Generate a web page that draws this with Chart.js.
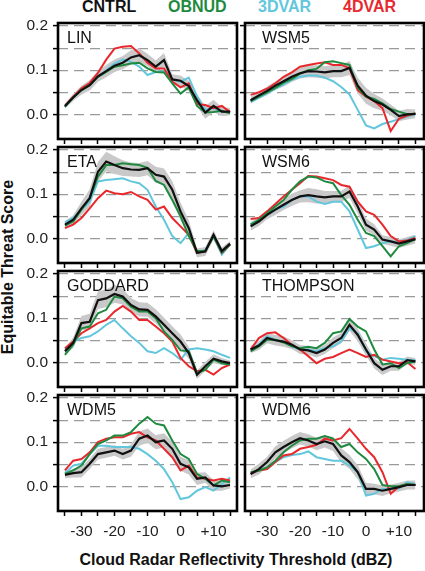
<!DOCTYPE html>
<html>
<head>
<meta charset="utf-8">
<script src="https://cdn.jsdelivr.net/npm/chart.js@4.4.1/dist/chart.umd.min.js"></script>
<style>
  html, body { margin: 0; padding: 0; background: #fff; overflow: hidden; }
  body { width: 425px; height: 571px; position: relative; font-family: 'Liberation Sans', Arial, sans-serif; color: #111; }
  canvas { position: absolute; }
  .txt { position: absolute; white-space: nowrap; }
  .legend { top: -3px; font-size: 16px; font-weight: bold; line-height: 20px; }
  .pname { font-size: 16px; line-height: 18px; color: #111; }
  .ytitle { left: -142px; top: 257px; width: 300px; text-align: center; font-size: 16px; font-weight: bold; line-height: 20px; transform: rotate(-90deg); }
  .xtitle { left: 36px; top: 550px; width: 400px; text-align: center; font-size: 16px; font-weight: bold; line-height: 20px; }
</style>
</head>
<body>
<div class="txt legend" style="left:82px;color:#111111">CNTRL</div>
<div class="txt legend" style="left:168px;color:#1f8a3f">OBNUD</div>
<div class="txt legend" style="left:258px;color:#62c6dc">3DVAR</div>
<div class="txt legend" style="left:343px;color:#e8282d">4DVAR</div>
<div class="txt ytitle">Equitable Threat Score</div>
<div class="txt xtitle">Cloud Radar Reflectivity Threshold (dBZ)</div>
<script>
// reflectivity thresholds (dBZ) where the scores are sampled
const thresholds = [-35, -32.5, -30, -27.5, -25, -22.5, -20, -17.5, -15, -12.5, -10, -7.5, -5, -2.5, 0, 2.5, 5, 7.5, 10, 12.5, 15];
const yTickValues = [0, 0.05, 0.1, 0.15, 0.2];
const yTickLabels = ["0.0", "", "0.1", "", "0.2"];
const xTickValues = [-35, -30, -25, -20, -15, -10, -5, 0, 5, 10, 15];
const xTickLabels = ["", "-30", "", "-20", "", "-10", "", "0", "", "+10", ""];
const experiments = ["CNTRL", "OBNUD", "3DVAR", "4DVAR"];

const LIN_CNTRL  = [0.019,0.038,0.055,0.066,0.086,0.098,0.110,0.117,0.129,0.134,0.123,0.108,0.123,0.079,0.076,0.064,0.032,0.004,0.019,0.006,0.006];
const LIN_OBNUD  = [0.017,0.038,0.055,0.066,0.085,0.096,0.108,0.111,0.115,0.117,0.104,0.096,0.095,0.070,0.047,0.061,0.019,0.004,0.005,0.008,0.002];
const LIN_3DVAR  = [0.017,0.038,0.056,0.068,0.086,0.100,0.115,0.124,0.119,0.108,0.089,0.096,0.098,0.079,0.074,0.083,0.040,0.010,0.014,0.006,0.004];
const LIN_4DVAR  = [0.019,0.040,0.059,0.071,0.094,0.124,0.149,0.153,0.155,0.138,0.117,0.104,0.104,0.074,0.061,0.070,0.023,0.021,0.014,0.019,0.005];
const LIN_SPREAD = [0.006,0.008,0.010,0.012,0.012,0.014,0.014,0.015,0.016,0.016,0.014,0.014,0.016,0.012,0.012,0.012,0.014,0.014,0.014,0.010,0.008];

const WSM5_CNTRL  = [0.032,0.043,0.053,0.065,0.075,0.085,0.093,0.098,0.097,0.095,0.098,0.098,0.105,0.065,0.042,0.030,0.022,0.010,-0.004,0.000,0.001];
const WSM5_OBNUD  = [0.030,0.040,0.050,0.060,0.072,0.080,0.092,0.100,0.103,0.118,0.120,0.116,0.112,0.060,0.040,0.035,0.025,0.012,0.006,0.000,0.001];
const WSM5_3DVAR  = [0.028,0.037,0.048,0.058,0.068,0.078,0.085,0.088,0.088,0.083,0.075,0.062,0.045,0.010,-0.025,-0.032,-0.022,-0.017,-0.011,-0.005,0.000];
const WSM5_4DVAR  = [0.044,0.050,0.058,0.070,0.085,0.095,0.108,0.112,0.115,0.118,0.112,0.112,0.105,0.055,0.040,0.030,0.014,-0.038,-0.010,-0.003,0.002];
const WSM5_SPREAD = [0.008,0.008,0.010,0.010,0.012,0.012,0.012,0.014,0.014,0.014,0.014,0.014,0.016,0.018,0.018,0.016,0.014,0.012,0.012,0.012,0.010];

const ETA_CNTRL  = [0.031,0.042,0.068,0.091,0.151,0.174,0.166,0.159,0.156,0.155,0.159,0.144,0.140,0.110,0.061,0.023,-0.033,-0.030,0.008,-0.029,-0.012];
const ETA_OBNUD  = [0.029,0.038,0.065,0.091,0.140,0.166,0.166,0.170,0.168,0.166,0.160,0.130,0.121,0.087,0.050,0.005,-0.029,-0.029,0.004,-0.032,-0.014];
const ETA_3DVAR  = [0.036,0.046,0.065,0.083,0.129,0.132,0.134,0.136,0.129,0.125,0.110,0.072,0.042,0.005,-0.011,0.012,-0.033,-0.026,0.004,-0.037,-0.014];
const ETA_4DVAR  = [0.023,0.031,0.046,0.068,0.091,0.108,0.102,0.100,0.105,0.095,0.087,0.065,0.072,0.046,0.027,0.008,-0.033,-0.029,0.005,-0.033,-0.014];
const ETA_SPREAD = [0.008,0.010,0.015,0.020,0.022,0.022,0.020,0.018,0.016,0.016,0.016,0.018,0.018,0.020,0.020,0.018,0.010,0.010,0.010,0.008,0.006];

const WSM6_CNTRL  = [0.027,0.038,0.053,0.065,0.076,0.087,0.095,0.098,0.095,0.093,0.095,0.095,0.106,0.072,0.031,0.020,-0.003,-0.007,-0.012,-0.007,-0.002];
const WSM6_OBNUD  = [0.031,0.042,0.057,0.072,0.087,0.110,0.129,0.140,0.138,0.129,0.125,0.098,0.076,0.042,0.012,0.005,-0.018,-0.041,-0.018,-0.011,-0.002];
const WSM6_3DVAR  = [0.031,0.042,0.053,0.065,0.072,0.087,0.095,0.095,0.083,0.078,0.083,0.083,0.061,0.020,-0.022,-0.018,-0.011,-0.007,-0.007,-0.003,0.005];
const WSM6_4DVAR  = [0.044,0.046,0.061,0.078,0.095,0.110,0.125,0.141,0.140,0.136,0.132,0.121,0.117,0.083,0.061,0.053,0.031,0.005,-0.007,-0.005,0.001];
const WSM6_SPREAD = [0.010,0.010,0.010,0.012,0.012,0.014,0.014,0.016,0.016,0.014,0.012,0.012,0.014,0.016,0.014,0.012,0.010,0.010,0.010,0.010,0.010];

const GODDARD_CNTRL  = [0.025,0.044,0.089,0.092,0.141,0.145,0.155,0.149,0.130,0.120,0.119,0.104,0.085,0.066,0.047,0.021,-0.028,-0.009,0.008,0.002,-0.002];
const GODDARD_OBNUD  = [0.017,0.040,0.077,0.081,0.111,0.119,0.149,0.145,0.126,0.115,0.115,0.100,0.070,0.051,0.027,0.025,-0.024,-0.017,0.006,-0.002,-0.005];
const GODDARD_3DVAR  = [0.029,0.047,0.055,0.059,0.070,0.085,0.096,0.077,0.059,0.044,0.025,0.021,0.032,0.021,0.006,0.029,0.032,0.029,0.025,0.017,0.010];
const GODDARD_4DVAR  = [0.032,0.047,0.066,0.077,0.089,0.096,0.115,0.128,0.115,0.096,0.096,0.081,0.066,0.047,0.010,-0.009,-0.020,-0.017,-0.028,-0.013,-0.005];
const GODDARD_SPREAD = [0.008,0.012,0.016,0.018,0.020,0.020,0.020,0.018,0.016,0.016,0.016,0.016,0.016,0.016,0.016,0.014,0.010,0.010,0.010,0.008,0.006];

const THOMPSON_CNTRL  = [0.029,0.038,0.055,0.050,0.047,0.040,0.029,0.027,0.021,0.029,0.044,0.055,0.085,0.062,0.029,-0.002,-0.017,-0.009,-0.009,0.005,0.002];
const THOMPSON_OBNUD  = [0.025,0.036,0.051,0.051,0.045,0.036,0.032,0.035,0.032,0.044,0.066,0.070,0.098,0.081,0.070,0.029,-0.005,-0.002,-0.013,-0.002,0.002];
const THOMPSON_3DVAR  = [0.029,0.040,0.059,0.051,0.047,0.036,0.029,0.029,0.025,0.032,0.036,0.047,0.077,0.066,0.025,0.014,0.006,0.010,0.008,0.006,0.005];
const THOMPSON_4DVAR  = [0.029,0.055,0.066,0.068,0.055,0.040,0.029,0.014,-0.002,0.008,0.012,0.021,0.029,0.021,0.012,0.017,0.006,0.002,-0.002,0.000,-0.015];
const THOMPSON_SPREAD = [0.008,0.010,0.012,0.012,0.012,0.010,0.010,0.010,0.010,0.010,0.012,0.012,0.014,0.014,0.014,0.012,0.012,0.010,0.010,0.008,0.008];

const WDM5_CNTRL  = [0.026,0.030,0.032,0.051,0.073,0.077,0.081,0.073,0.081,0.108,0.115,0.100,0.104,0.085,0.051,0.043,0.017,0.020,0.002,0.000,0.003];
const WDM5_OBNUD  = [0.028,0.036,0.047,0.073,0.096,0.104,0.115,0.115,0.123,0.142,0.157,0.142,0.138,0.104,0.073,0.062,0.028,0.017,0.002,0.013,0.009];
const WDM5_3DVAR  = [0.030,0.047,0.051,0.073,0.092,0.092,0.089,0.089,0.089,0.085,0.073,0.058,0.039,0.009,-0.029,-0.025,-0.010,-0.002,-0.010,0.005,0.020];
const WDM5_4DVAR  = [0.036,0.058,0.062,0.077,0.100,0.108,0.111,0.111,0.119,0.123,0.111,0.104,0.085,0.066,0.036,0.047,0.020,0.017,0.013,0.017,0.013];
const WDM5_SPREAD = [0.008,0.010,0.012,0.012,0.012,0.012,0.012,0.012,0.014,0.016,0.016,0.016,0.016,0.016,0.016,0.016,0.014,0.012,0.012,0.010,0.008];

const WDM6_CNTRL  = [0.028,0.039,0.055,0.077,0.089,0.100,0.109,0.104,0.096,0.102,0.096,0.070,0.055,0.032,-0.006,-0.006,-0.010,-0.006,-0.002,0.003,0.003];
const WDM6_OBNUD  = [0.032,0.036,0.043,0.058,0.077,0.092,0.104,0.108,0.108,0.114,0.108,0.089,0.096,0.077,0.062,0.039,0.003,0.000,0.000,0.005,0.003];
const WDM6_3DVAR  = [0.028,0.036,0.039,0.055,0.066,0.071,0.073,0.079,0.066,0.062,0.058,0.058,0.047,0.032,-0.021,-0.017,-0.006,-0.006,-0.005,0.009,0.005];
const WDM6_4DVAR  = [0.028,0.036,0.039,0.055,0.070,0.073,0.085,0.089,0.094,0.108,0.104,0.109,0.130,0.108,0.085,0.066,0.032,-0.017,0.000,0.005,0.003];
const WDM6_SPREAD = [0.010,0.012,0.012,0.014,0.014,0.014,0.014,0.014,0.014,0.014,0.016,0.016,0.016,0.016,0.014,0.012,0.012,0.010,0.010,0.010,0.010];

const panels = [
    { name: "LIN",      row: 0, col: 0, series: [LIN_CNTRL, LIN_OBNUD, LIN_3DVAR, LIN_4DVAR], spread: LIN_SPREAD },
    { name: "WSM5",     row: 0, col: 1, series: [WSM5_CNTRL, WSM5_OBNUD, WSM5_3DVAR, WSM5_4DVAR], spread: WSM5_SPREAD },
    { name: "ETA",      row: 1, col: 0, series: [ETA_CNTRL, ETA_OBNUD, ETA_3DVAR, ETA_4DVAR], spread: ETA_SPREAD },
    { name: "WSM6",     row: 1, col: 1, series: [WSM6_CNTRL, WSM6_OBNUD, WSM6_3DVAR, WSM6_4DVAR], spread: WSM6_SPREAD },
    { name: "GODDARD",  row: 2, col: 0, series: [GODDARD_CNTRL, GODDARD_OBNUD, GODDARD_3DVAR, GODDARD_4DVAR], spread: GODDARD_SPREAD },
    { name: "THOMPSON", row: 2, col: 1, series: [THOMPSON_CNTRL, THOMPSON_OBNUD, THOMPSON_3DVAR, THOMPSON_4DVAR], spread: THOMPSON_SPREAD },
    { name: "WDM5",     row: 3, col: 0, series: [WDM5_CNTRL, WDM5_OBNUD, WDM5_3DVAR, WDM5_4DVAR], spread: WDM5_SPREAD },
    { name: "WDM6",     row: 3, col: 1, series: [WDM6_CNTRL, WDM6_OBNUD, WDM6_3DVAR, WDM6_4DVAR], spread: WDM6_SPREAD }
];

const lineColors = ["#111111", "#1f8a3f", "#62c6dc", "#e8282d"];
const bandColor = "#c9c9c9";

// layout of the 4x2 grid of plot boxes
const plotLeft = [58, 245];
const plotTop = [23, 147, 271, 395];
const PLOT_W = 179, PLOT_H = 116;
const AXIS_W = 50, PAD_T = 18, PAD_R = 10;
const xMin = [-37.1, -36.7], xMax = [17.1, 17.6];

Chart.defaults.font.family = "'Liberation Sans', Arial, sans-serif";
Chart.defaults.color = "#222";

const framePlugin = {
    id: "frame",
    afterDraw(chart) {
        const { ctx, chartArea: a } = chart;
        ctx.save();
        ctx.lineWidth = 2.6;
        ctx.strokeStyle = "#000";
        ctx.strokeRect(a.left, a.top, a.right - a.left, a.bottom - a.top);
        ctx.restore();
    }
};

function makePanel(p) {
    const bottomRow = p.row === 3;
    const leftCol = p.col === 0;
    const xh = bottomRow ? 44 : 20;

    const cv = document.createElement("canvas");
    cv.width = AXIS_W + PLOT_W + PAD_R;
    cv.height = PAD_T + PLOT_H + xh;
    cv.style.left = (plotLeft[p.col] - AXIS_W) + "px";
    cv.style.top = (plotTop[p.row] - PAD_T) + "px";
    document.body.appendChild(cv);

    const label = document.createElement("div");
    label.className = "txt pname";
    label.textContent = p.name;
    label.style.left = (leftCol ? 67 : 262) + "px";
    label.style.top = (plotTop[p.row] + 6) + "px";

    const pts = arr => thresholds.map((x, i) => ({ x: x, y: arr[i] }));
    const cntrl = p.series[0];

    const datasets = [0, 1, 3, 2].map(k => ({
        label: experiments[k],
        data: pts(p.series[k]),
        borderColor: lineColors[k],
        borderWidth: k === 0 ? 2.2 : 2,
        pointRadius: 0,
        tension: 0,
        fill: false
    }));
    datasets.push({
        label: "CNTRL upper",
        data: pts(cntrl.map((v, i) => v + p.spread[i])),
        borderWidth: 0,
        pointRadius: 0,
        backgroundColor: bandColor,
        fill: "+1"
    });
    datasets.push({
        label: "CNTRL lower",
        data: pts(cntrl.map((v, i) => v - p.spread[i])),
        borderWidth: 0,
        pointRadius: 0,
        fill: false
    });

    new Chart(cv, {
        type: "line",
        data: { datasets: datasets },
        options: {
            responsive: false,
            animation: false,
            layout: { padding: { top: PAD_T, right: PAD_R, left: 0, bottom: 0 } },
            plugins: { legend: { display: false }, tooltip: { enabled: false } },
            scales: {
                x: {
                    type: "linear",
                    min: xMin[p.col],
                    max: xMax[p.col],
                    afterBuildTicks: s => { s.ticks = xTickValues.map(v => ({ value: v })); },
                    afterFit: s => { s.height = xh; },
                    ticks: {
                        display: bottomRow,
                        autoSkip: false,
                        maxRotation: 0,
                        padding: 6,
                        font: { size: 15.5 },
                        color: "#222",
                        callback: (v, i) => xTickLabels[i]
                    },
                    grid: { drawOnChartArea: false, drawTicks: true, tickLength: 5, tickColor: "#000", tickWidth: 1.5 },
                    border: { display: false }
                },
                y: {
                    type: "linear",
                    min: -0.056,
                    max: 0.207,
                    afterBuildTicks: s => { s.ticks = yTickValues.map(v => ({ value: v })); },
                    afterFit: s => { s.width = AXIS_W; },
                    ticks: {
                        display: leftCol,
                        padding: 5,
                        font: { size: 15.5 },
                        color: "#222",
                        callback: (v, i) => yTickLabels[i]
                    },
                    grid: { color: "#9a9a9a", lineWidth: 1.2, drawTicks: true, tickLength: 5, tickColor: "#000", tickWidth: 1.5 },
                    border: { display: false, dash: [10, 6] }
                }
            }
        },
        plugins: [framePlugin]
    });
    document.body.appendChild(label);
}

panels.forEach(makePanel);
</script>
</body>
</html>
